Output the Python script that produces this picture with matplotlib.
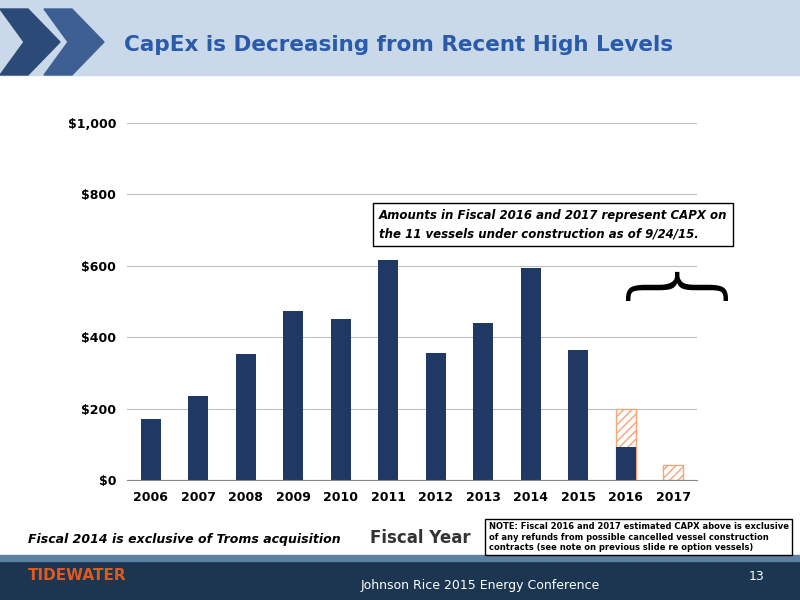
import matplotlib.pyplot as plt
from matplotlib.patches import Rectangle, Polygon

years = ['2006', '2007', '2008', '2009', '2010', '2011', '2012', '2013', '2014', '2015', '2016', '2017']
capex = [172, 235, 353, 473, 452, 615, 357, 440, 595, 363, 92, 0]
hatched_top = [0, 0, 0, 0, 0, 0, 0, 0, 0, 0, 198, 42]

navy = '#1f3864'
orange = '#f4a57a'

fig = plt.figure(figsize=(8, 6), dpi=100)

# header band
fig.patches.append(Rectangle((0, 0.875), 1, 0.125, transform=fig.transFigure, color='#c9d9ea', zorder=0))
fig.patches.append(Polygon([[0, 0.985], [0.035, 0.985], [0.075, 0.93], [0.035, 0.875], [0, 0.875], [0.03, 0.93]],
                           closed=True, transform=fig.transFigure, color='#2c4a78', zorder=1))
fig.patches.append(Polygon([[0.055, 0.985], [0.09, 0.985], [0.13, 0.93], [0.09, 0.875], [0.055, 0.875], [0.085, 0.93]],
                           closed=True, transform=fig.transFigure, color='#3d5f94', zorder=1))
fig.text(0.155, 0.925, 'CapEx is Decreasing from Recent High Levels', fontsize=15.5, fontweight='bold',
         color='#2a5aa8', va='center')

# footer band
fig.patches.append(Rectangle((0, 0), 1, 0.065, transform=fig.transFigure, color='#1c3550', zorder=0))
fig.patches.append(Rectangle((0, 0.065), 1, 0.01, transform=fig.transFigure, color='#5d7fa0', zorder=0))
fig.text(0.035, 0.04, 'TIDEWATER', fontsize=11, fontweight='bold', color='#e05a1e', va='center')
fig.text(0.6, 0.025, 'Johnson Rice 2015 Energy Conference', fontsize=9, color='white', ha='center', va='center')
fig.text(0.955, 0.04, '13', fontsize=9, color='white', ha='right', va='center')

ax = fig.add_axes([0.159, 0.2, 0.712, 0.595])
x = range(len(years))
ax.bar(x, hatched_top, width=0.42, color='white', edgecolor=orange, hatch='////', linewidth=1)
ax.bar(x, capex, width=0.42, color=navy)

ax.set_ylim(0, 1000)
ax.set_xlim(-0.5, 11.5)
ax.set_yticks(range(0, 1001, 200))
ax.set_yticklabels(['$0', '$200', '$400', '$600', '$800', '$1,000'], fontweight='bold', fontsize=9)
ax.set_xticks(list(x))
ax.set_xticklabels(years, fontweight='bold', fontsize=9)
ax.tick_params(length=0, pad=8)
ax.grid(axis='y', color='#bfbfbf', linewidth=0.8)
ax.set_axisbelow(True)
for s in ['top', 'right', 'left']:
    ax.spines[s].set_visible(False)
ax.spines['bottom'].set_color('#888888')

ax.text(4.8, 715, 'Amounts in Fiscal 2016 and 2017 represent CAPX on\nthe 11 vessels under construction as of 9/24/15.',
        fontsize=8.5, fontweight='bold', style='italic', va='center', linespacing=1.5,
        bbox=dict(boxstyle='square,pad=0.5', facecolor='white', edgecolor='black'))
ax.text(10.6, 490, '{', fontsize=80, rotation=-90, ha='center', va='center', fontweight='ultralight')

fig.text(0.035, 0.095, 'Fiscal 2014 is exclusive of Troms acquisition', fontsize=9, style='italic', fontweight='bold')
fig.text(0.525, 0.095, 'Fiscal Year', fontsize=12, fontweight='bold', ha='center', color='#333333')
fig.text(0.611, 0.08, 'NOTE: Fiscal 2016 and 2017 estimated CAPX above is exclusive\nof any refunds from possible cancelled vessel construction\ncontracts (see note on previous slide re option vessels)',
         fontsize=6, fontweight='bold', va='bottom',
         bbox=dict(boxstyle='square,pad=0.4', facecolor='white', edgecolor='black'))

fig.savefig('out.png')
